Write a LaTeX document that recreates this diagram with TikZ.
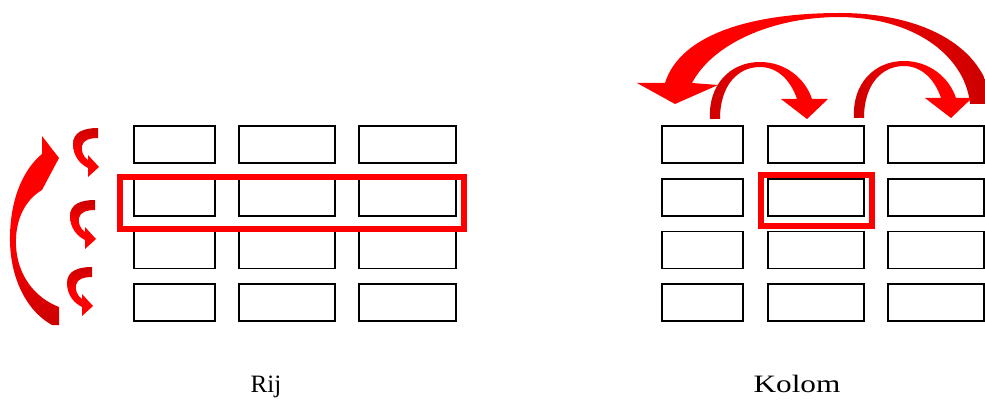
\documentclass[tikz,border=0pt]{standalone}
\usepackage{fontspec}
\newfontfamily\labfont{Liberation Serif}
\newfontfamily\labfontw[FakeStretch=1.25]{Liberation Serif}
\definecolor{arrred}{RGB}{255,0,0}
\definecolor{arrdark}{RGB}{204,0,0}
\definecolor{selred}{RGB}{255,0,0}
\begin{document}
\begin{tikzpicture}[x=1pt,y=-1pt,
  cell/.style={draw=black,line width=1.6pt,minimum width=#1,minimum height=37pt,inner sep=0pt,outer sep=0pt},
  cell/.default=81pt,
  sel/.style={draw=selred,line width=6pt,inner sep=0pt,outer sep=0pt},
  lab/.style={anchor=base,inner sep=0pt},
  lcurl/.pic={\shade[top color=arrdark,bottom color=arrred,middle color=arrred]
    (0,0) .. controls (-14,0) and (-25,4) .. (-25,16) .. controls (-25,28) and (-18,36) .. (-10,40)
    -- (-10,49) -- (1,39) -- (-10,27) -- (-10,32)
    .. controls (-15,29) and (-17,22) .. (-16,18) .. controls (-15,12) and (-8,10) .. (0,10) -- cycle;},
  rarc/.pic={\shade[left color=arrdark,right color=arrred,middle color=arrred]
    (0,0) .. controls (-2,-34) and (20,-57) .. (50,-57) .. controls (75,-57) and (95,-41) .. (102,-20)
    -- (118,-20) -- (97,0) -- (71,-20) -- (87,-20)
    .. controls (81,-38) and (68,-52) .. (50,-52) .. controls (28,-52) and (10,-34) .. (10,0) -- cycle;}
]
\useasboundingbox (0,0) rectangle (985,403);
\clip (0,0) rectangle (985,403);

% left grid
\foreach \cx/\w/\c in {174.5/81/1,287/96/2,407.5/97/3}{
  \foreach \cy/\r in {144.5/1,197.5/2,250/3,302.5/4}{
    \node[cell=\w pt] (L\r\c) at (\cx,\cy) {};
  }
}
% right grid
\foreach \cx/\w/\c in {702.5/81/1,816/96/2,936/96/3}{
  \foreach \cy/\r in {144.5/1,197.5/2,250/3,302.5/4}{
    \node[cell=\w pt] (R\r\c) at (\cx,\cy) {};
  }
}

% selections
\node[sel,minimum width=344pt,minimum height=52pt] (rowsel) at (292,203) {};
\node[sel,minimum width=111pt,minimum height=51pt] (colsel) at (816.5,200.5) {};

% labels
\node[lab,font=\labfont\fontsize{25}{30}\selectfont] (rij) at (266,392) {Rij};
\node[lab,font=\labfontw\fontsize{25}{30}\selectfont] (kolom) at (797,392) {Kolom};

% big left arrow
\shade[top color=arrred,bottom color=arrdark,middle color=arrred]
  (52,325) .. controls (25,310) and (9,275) .. (10,235) .. controls (11,195) and (25,168) .. (42,154)
  -- (42,136) -- (59,158) -- (42,190)
  .. controls (25,200) and (15,220) .. (16,245) .. controls (17,275) and (35,298) .. (59,307)
  -- (59,325) -- cycle;

% small left arrows
\pic at (98,128) {lcurl};
\pic at (95,200) {lcurl};
\pic at (92,267) {lcurl};

% big right arc
\shade[left color=arrred,right color=arrdark,middle color=arrred]
  (665,83) .. controls (680,35) and (750,13) .. (840,13) .. controls (920,13) and (985,45) .. (992,104)
  -- (970,104) .. controls (966,60) and (920,18) .. (840,17) .. controls (770,17) and (712,45) .. (692,83)
  -- (718,85) -- (675,104) -- (637,83) -- cycle;

% small right arcs
\pic at (710,119) {rarc};
\pic at (854,118) {rarc};
\end{tikzpicture}
\end{document}
